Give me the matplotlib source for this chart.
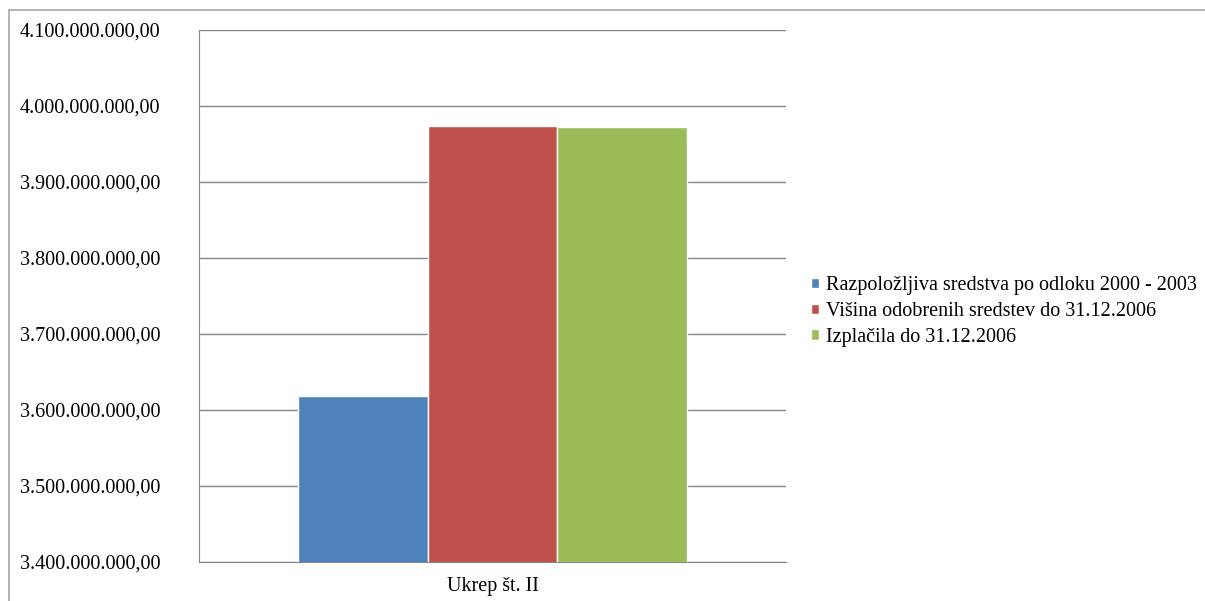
import matplotlib.pyplot as plt
from matplotlib.patches import Rectangle
from matplotlib.ticker import FuncFormatter

# data
category = "Ukrep št. II"
series = ["Razpoložljiva sredstva po odloku 2000 - 2003",
          "Višina odobrenih sredstev do 31.12.2006",
          "Izplačila do 31.12.2006"]
values = [3619000000, 3973500000, 3972500000]
colors = ["#4F81BD", "#C0504D", "#9BBB59"]
yticks = [3.4e9, 3.5e9, 3.6e9, 3.7e9, 3.8e9, 3.9e9, 4.0e9, 4.1e9]

plt.rcParams['font.family'] = ['Liberation Serif', 'DejaVu Serif']
fs = 14.5

fig = plt.figure(figsize=(12.05, 6.01), dpi=100)
ax = fig.add_axes([199 / 1205, 39 / 601, 587 / 1205, 532 / 601])

# outer chart border
fig.patches.append(Rectangle((9 / 1205, -0.01), 1.0, 1 - 10 / 601 + 0.01,
                             transform=fig.transFigure, fill=False,
                             edgecolor="#A6A6A6", linewidth=1.2))

width = 0.221
for i, (name, v, c) in enumerate(zip(series, values, colors)):
    ax.bar((i - 1) * width, v, width=width, color=c, edgecolor="white",
           linewidth=1, label=name, zorder=3)

ax.set_xlim(-0.5, 0.5)
ax.set_ylim(yticks[0], yticks[-1])
ax.set_yticks(yticks)


def fmt(v, pos):
    s = "{:,.2f}".format(v)
    return s.replace(",", "X").replace(".", ",").replace("X", ".")


ax.yaxis.set_major_formatter(FuncFormatter(fmt))
ax.set_xticks([0])
ax.set_xticklabels([category])
ax.tick_params(axis="x", length=0, pad=11, labelsize=fs)
# pad in points: 179 px -> 129 pt
ax.tick_params(axis="y", length=0, labelsize=fs, pad=129)
for lbl in ax.get_yticklabels():
    lbl.set_horizontalalignment("left")

ax.grid(axis="y", color="#868686", linewidth=1, zorder=0)
for side in ["top", "right"]:
    ax.spines[side].set_visible(False)
ax.spines["left"].set_color("#868686")
ax.spines["bottom"].set_color("#868686")

ax.legend(loc="center left", bbox_to_anchor=(1.042, 0.471), frameon=False,
          fontsize=fs, handlelength=0.4, handleheight=0.4,
          handletextpad=0.35, labelspacing=0.34, borderaxespad=0,
          borderpad=0)

fig.savefig("out.png", dpi=100)
